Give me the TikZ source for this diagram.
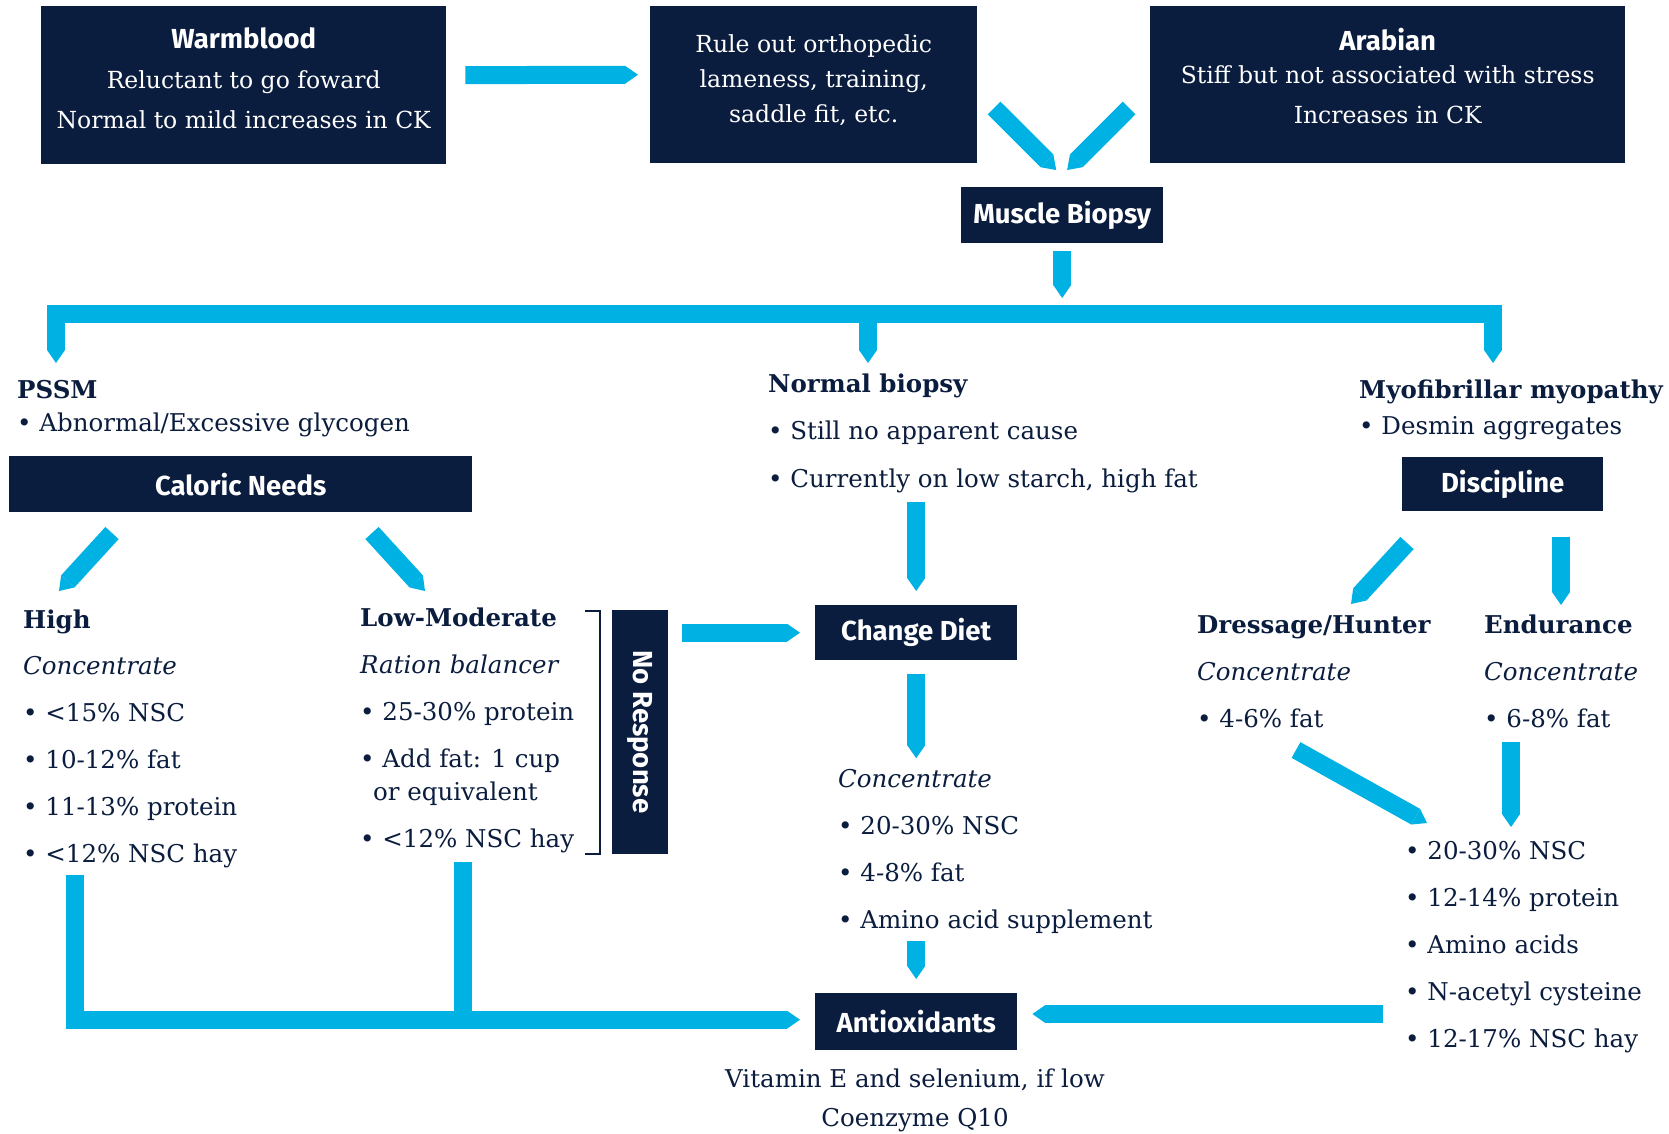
\documentclass[tikz,border=0pt]{standalone}
\usepackage{fontspec}
\setmainfont{DejaVu Serif}
\newfontfamily\headfont{Fira Sans}
\usetikzlibrary{arrows.meta, positioning}
\definecolor{navy}{HTML}{0B1D3E}
\definecolor{flowblue}{HTML}{00B2E3}
\newcommand\boxtitle[1]{{\headfont\bfseries\fontsize{27.5}{33}\selectfont #1}}

\begin{document}
\begin{tikzpicture}[
  x=1pt, y=-1pt,
  darkbox/.style={fill=navy, text=white, inner sep=0pt, align=center, anchor=north west, font=\fontsize{23.5}{40}\selectfont},
  headbox/.style={darkbox, font=\headfont\bfseries\fontsize{27.5}{33}\selectfont},
  notes/.style={text=navy, inner sep=0pt, anchor=base west, align=left, font=\fontsize{24.5}{46.8}\selectfont},
  flow/.style={draw=flowblue, line width=18pt, -{Triangle[width=18pt, length=13pt, line width=0pt]}},
  bar/.style={draw=flowblue, line width=18pt}
]
  \fill[white] (0,0) rectangle (1669,1134);
  \useasboundingbox (0,0) rectangle (1669,1134);

  % top row
  \node[darkbox, minimum width=405pt, minimum height=158pt, text depth=15pt] (warm) at (41,6)
    {\boxtitle{Warmblood}\\ Reluctant to go foward\\ Normal to mild increases in CK};
  \node[darkbox, minimum width=327pt, minimum height=157pt, text depth=12pt, font=\fontsize{23.5}{35}\selectfont] (rule) at (650,6)
    {Rule out orthopedic\\ lameness, training,\\ saddle fit, etc.};
  \node[darkbox, minimum width=475pt, minimum height=157pt, text depth=18pt, font=\fontsize{23.5}{39.5}\selectfont] (arab) at (1150,6)
    {\boxtitle{Arabian}\\[-6pt] Stiff but not associated with stress\\ Increases in CK};
  \node[headbox, minimum width=202pt, minimum height=56pt] (biopsy) at (961,187) {Muscle Biopsy};

  % three results
  \node[notes, font=\fontsize{24.5}{33}\selectfont] (pssm) at (17,431) {\textbf{PSSM}\\ • Abnormal/Excessive glycogen};
  \node[notes, font=\fontsize{24.5}{47.5}\selectfont] (normal) at (768,487) {\textbf{Normal biopsy}\\ • Still no apparent cause\\ • Currently on low starch, high fat};
  \node[notes, font=\fontsize{24.5}{36}\selectfont] (myo) at (1359,434) {\textbf{Myofibrillar myopathy}\\ • Desmin aggregates};

  \node[headbox, minimum width=463pt, minimum height=56pt] (caloric) at (9,456) {Caloric Needs};
  \node[headbox, minimum width=201pt, minimum height=54pt] (discipline) at (1402,457) {Discipline};

  % PSSM diets
  \node[notes] (high) at (23,862) {\textbf{High}\\ \textit{Concentrate}\\ • <15\% NSC\\ • 10-12\% fat\\ • 11-13\% protein\\ • <12\% NSC hay};
  \node[notes] (lowmod) at (360,847) {\textbf{Low-Moderate}\\ \textit{Ration balancer}\\ • 25-30\% protein\\ • Add fat: 1 cup\\[-13.8pt] \hspace*{13pt}or equivalent\\ • <12\% NSC hay};
  \draw[navy, line width=1.5pt] (585,611) -| (600,854) -- (585,854);
  \node[headbox, rotate=-90, minimum width=244pt, minimum height=56pt, anchor=center] (noresp) at (640,732) {No Response};

  % normal biopsy
  \node[headbox, minimum width=202pt, minimum height=55pt] (change) at (815,605) {Change Diet};
  \node[notes] (conc) at (838,928) {\textit{Concentrate}\\ • 20-30\% NSC\\ • 4-8\% fat\\ • Amino acid supplement};
  \node[headbox, minimum width=202pt, minimum height=57pt] (antiox) at (815,993) {Antioxidants};
  \node[notes, anchor=base, align=center, font=\fontsize{24.5}{39}\selectfont] (vitamin) at (915,1126)
    {Vitamin E and selenium, if low\\ Coenzyme Q10};

  % myofibrillar diets
  \node[notes] (dressage) at (1197,727) {\textbf{Dressage/Hunter}\\ \textit{Concentrate}\\ • 4-6\% fat};
  \node[notes] (endurance) at (1484,727) {\textbf{Endurance}\\ \textit{Concentrate}\\ • 6-8\% fat};
  \node[notes] (mfmdiet) at (1405,1047) {• 20-30\% NSC\\ • 12-14\% protein\\ • Amino acids\\ • N-acetyl cysteine\\ • 12-17\% NSC hay};

  % free ends of the connectors
  \coordinate (vl) at (994,108);
  \coordinate (vr) at (1129,108);
  \coordinate (barL) at (56,314);
  \coordinate (barR) at (1493,314);
  \coordinate (pssmtip) at (56,363);
  \coordinate (myotip) at (1493,363);
  \coordinate (normaltip) at (868,363);
  \coordinate (hiA) at (112,533);
  \coordinate (hiB) at (59,591);
  \coordinate (loA) at (372,533);
  \coordinate (loB) at (425,591);
  \coordinate (dsA) at (1407,543);
  \coordinate (dsB) at (1351,604);
  \coordinate (enA) at (1561,537);
  \coordinate (enB) at (1561,605);
  \coordinate (dsC) at (1296,750);
  \coordinate (dsD) at (1427,823);
  \coordinate (enC) at (1511,742);
  \coordinate (enD) at (1511,827);
  \coordinate (hifoot) at (75,875);
  \coordinate (lofoot) at (463,862);
  \coordinate (mfmfoot) at (1383,1014);

  \draw[flow, shorten <=19pt, shorten >=12pt] ([yshift=10pt]warm.east) -- ([yshift=10pt]rule.west);
  \draw[flow, shorten >=24pt] (vl) -- ([xshift=11pt]biopsy.north);
  \draw[flow, shorten >=24pt] (vr) -- ([xshift=-12pt]biopsy.north);
  \draw[flow, shorten <=8pt, shorten >=16pt] (biopsy.south) -- (biopsy.south |- barL);
  \draw[flow, {Triangle[width=18pt, length=13pt, line width=0pt]}-{Triangle[width=18pt, length=13pt, line width=0pt]}]
    (pssmtip) -- (barL) -- (barR) -- (myotip);
  \draw[flow] (normaltip |- barL) -- (normaltip);

  \draw[flow] (hiA) -- (hiB);
  \draw[flow] (loA) -- (loB);
  \draw[flow, shorten <=14pt, shorten >=15pt] (noresp.north |- change.west) -- (change.west);
  \draw[flow, shorten <=9pt, shorten >=14pt] (normal.south -| change.north) -- (change.north);
  \draw[flow, shorten <=14pt, shorten >=11pt] (change.south) -- (change.south |- conc.north);
  \draw[flow, shorten <=8pt, shorten >=14pt] (antiox.north |- conc.south) -- (antiox.north);
  \draw[flow, shorten >=15pt] (hifoot) |- ([yshift=2pt]antiox.west);
  \draw[bar] (lofoot) -- (lofoot |- antiox.west);

  \draw[flow] (dsA) -- (dsB);
  \draw[flow] (enA) -- (enB);
  \draw[flow] (dsC) -- (dsD);
  \draw[flow] (enC) -- (enD);
  \draw[flow, shorten >=15pt] (mfmfoot) -- (mfmfoot -| antiox.east);
\end{tikzpicture}
\end{document}
